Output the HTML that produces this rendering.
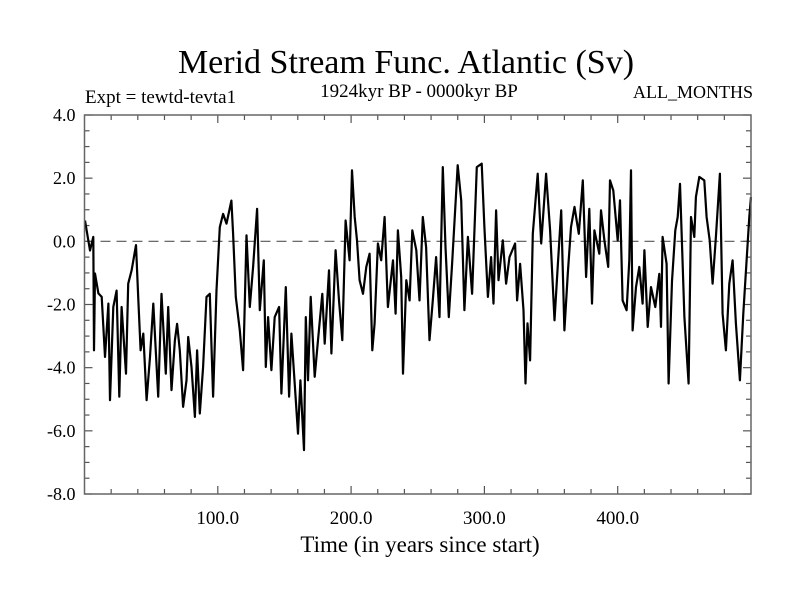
<!DOCTYPE html>
<html><head><meta charset="utf-8"><style>
html,body{margin:0;padding:0;background:#fff;}
svg{display:block;font-family:"Liberation Serif",serif;}
</style></head><body>
<svg id="chart" width="800" height="600">
<text x="406" y="73" text-anchor="middle" font-size="34">Merid Stream Func. Atlantic (Sv)</text>
<text x="419" y="97" text-anchor="middle" font-size="19">1924kyr BP - 0000kyr BP</text>
<text x="85" y="103" font-size="19">Expt = tewtd-tevta1</text>
<text x="753" y="98" text-anchor="end" font-size="18">ALL_MONTHS</text>
<text x="420" y="552" text-anchor="middle" font-size="23">Time (in years since start)</text>
<g id="axes"></g>
<line id="zero" stroke="#555" stroke-width="1.2" stroke-dasharray="10,6"/>
<path id="series" fill="none" stroke="#000" stroke-width="2.2" stroke-linejoin="round"/>
<rect id="frame" fill="none" stroke="#666" stroke-width="1.5"/>
</svg>
<script>
const years=[0.4,4.1,6.6,7.1,7.9,10.4,12.9,15.4,17.9,19.1,21.6,24.1,26.1,27.8,31.1,32.8,35.3,38.6,40.3,42.1,44.1,46.6,49.1,51.6,55.3,57.8,61.0,62.8,65.3,67.8,69.5,71.5,74.0,76.5,77.8,80.3,82.8,84.5,86.5,89.0,91.5,94.0,96.5,99.0,101.5,104.0,106.5,110.2,111.5,113.5,116.5,119.0,121.5,124.0,
126.5,129.5,131.5,134.5,136,137.7,140.2,142.7,146,147.7,151,153.5,155.2,157.7,160.2,162,164.7,166,167.7,169.7,172.7,175.2,178.4,180.2,183.4,185.2,188.4,190.9,193.4,195.9,198.9,200.7,202.7,204.4,206.4,208.9,211.4,213.9,215.9,217.6,220.1,222.6,225.1,227.6,231.4,233.4,235.1,237.6,238.9,241.4,243.9,245.9,248.9,251.3,
253.8,256.3,258.8,261.3,263.8,266.3,268.8,270.8,273.3,275.8,280,282.6,285,287.6,290.8,294.3,298,300,302.6,305,306.8,308.8,310.6,313.8,316.3,318.8,323,324.5,326.8,329.3,330.8,332.3,334.3,336.3,340,342.6,346.3,349.3,352.6,355,357.6,360,362.6,365,367.6,370.8,373.8,376.3,
378.7,380.7,382.5,386.2,387.5,390,392.9,394.2,396.7,400,401.7,403.7,406.7,408.7,410,411.2,413.7,416.2,418.7,420,422.5,425,428.2,431.2,432.5,433.7,436.7,438.2,440.7,443.2,445,446.7,450,453.2,455,457.5,458.7,461.2,465,466.7,469,471.2,473.7,476.7,478.7,481.2,483.7,486.2,488.7,491.7,494.2,496.7,498.7,500.5];
const values=[0.66,-0.29,0.14,-3.45,-1.02,-1.65,-1.76,-3.66,-1.97,-5.03,-2.08,-1.56,-4.92,-2.08,-4.19,-1.34,-0.92,-0.12,-1.76,-3.45,-2.92,-5.03,-3.66,-1.97,-4.92,-1.66,-4.19,-2.08,-4.71,-3.13,-2.61,-3.45,-5.24,-4.40,-3.03,-3.98,-5.56,-3.45,-5.45,-3.98,-1.76,-1.66,-4.92,-1.55,0.45,0.87,0.56,1.29,0.24,-1.76,-2.82,-4.08,0.19,-2.08,
-0.81,1.03,-2.18,-0.6,-3.98,-2.4,-4.08,-2.4,-2.08,-4.82,-1.45,-4.92,-2.92,-4.5,-6.09,-4.4,-6.61,-2.4,-4.4,-1.76,-4.29,-3.13,-1.66,-3.24,-0.92,-3.55,-0.28,-1.87,-3.13,0.66,-0.6,2.25,0.77,0.03,-1.23,-1.66,-0.81,-0.39,-3.45,-2.6,-0.07,-0.6,0.77,-2.08,-0.6,-2.29,0.35,-1.13,-4.19,-1.23,-1.87,0.35,-0.28,-1.87,
0.77,-0.18,-3.13,-1.87,-0.5,-2.4,2.35,-0.18,-2.4,-0.71,2.41,1.3,-2.18,0.14,-1.66,2.35,2.46,0.45,-1.76,-0.5,-1.97,0.98,-1.23,0.03,-1.34,-0.5,-0.07,-1.87,-0.71,-2.18,-4.5,-2.6,-3.77,0.24,2.14,-0.07,2.14,0.35,-2.5,-0.81,0.98,-2.82,-1.02,0.45,1.09,0.24,1.93,-1.13,
1.03,-1.97,0.35,-0.39,0.98,0.03,-0.81,1.93,1.61,0.03,1.3,-1.87,-2.18,-0.6,2.25,-2.82,-1.45,-0.81,-1.97,-0.28,-2.71,-1.45,-2.08,-1.03,-2.71,0.14,-0.71,-4.5,-1.26,0.35,0.77,1.82,-2.4,-4.5,0.77,0.14,1.4,2.04,1.93,0.77,0.03,-1.34,0.14,2.14,-2.29,-3.45,-1.34,-0.6,-2.6,-4.4,-2.29,-0.6,0.77,1.4];
const yTickLabels=["4.0","2.0","0.0","-2.0","-4.0","-6.0","-8.0"];
const yTickValues=[4,2,0,-2,-4,-6,-8];
const xTickLabels=["100.0","200.0","300.0","400.0"];
const xTickValues=[100,200,300,400];

const L=84.5,R=751,T=115,B=494,X0=0,X1=500,Y0=-8,Y1=4;
const sx=v=>L+(v-X0)/(X1-X0)*(R-L);
const sy=v=>B-(v-Y0)/(Y1-Y0)*(B-T);
const NS="http://www.w3.org/2000/svg";
const ax=document.getElementById('axes');
function mk(tag,attrs){const e=document.createElementNS(NS,tag);for(const k in attrs)e.setAttribute(k,attrs[k]);return e;}
const fr=document.getElementById('frame');
fr.setAttribute('x',L);fr.setAttribute('y',T);fr.setAttribute('width',R-L);fr.setAttribute('height',B-T);
const z=document.getElementById('zero');
z.setAttribute('x1',L);z.setAttribute('x2',R);z.setAttribute('y1',sy(0));z.setAttribute('y2',sy(0));
for(let v=Y0;v<=Y1+1e-9;v+=0.5){
  const major=Math.abs(v/2-Math.round(v/2))<1e-9;const len=major?8:5;const y=sy(v);
  const t1=mk('line',{x1:L,x2:L+len,y1:y,y2:y,stroke:'#555','stroke-width':1.2});
  
  
  ax.appendChild(t1);
  const t2=mk('line',{x1:R,x2:R-len,y1:y,y2:y,stroke:'#555','stroke-width':1.2});
  
  
  ax.appendChild(t2);
}
for(let v=X0+20;v<X1;v+=20){
  const major=v%100===0;const len=major?8:5;const x=sx(v);
  const t1=mk('line',{x1:x,x2:x,y1:B,y2:B-len,stroke:'#555','stroke-width':1.2});
  
  
  ax.appendChild(t1);
  const t2=mk('line',{x1:x,x2:x,y1:T,y2:T+len,stroke:'#555','stroke-width':1.2});
  
  
  ax.appendChild(t2);
}
yTickValues.forEach((v,i)=>{
  const t=mk('text',{x:L-9,y:sy(v)+6,'text-anchor':'end','font-size':18});
  t.textContent=yTickLabels[i];
  
  
  ax.appendChild(t);
});
xTickValues.forEach((v,i)=>{
  const t=mk('text',{x:sx(v),y:B+30,'text-anchor':'middle','font-size':19});
  t.textContent=xTickLabels[i];
  
  
  ax.appendChild(t);
});
let d='';
years.forEach((yr,i)=>{d+=(i?'L':'M')+sx(Math.min(yr,X1)).toFixed(1)+','+sy(values[i]).toFixed(1);});
document.getElementById('series').setAttribute('d',d);
</script>
</body></html>
